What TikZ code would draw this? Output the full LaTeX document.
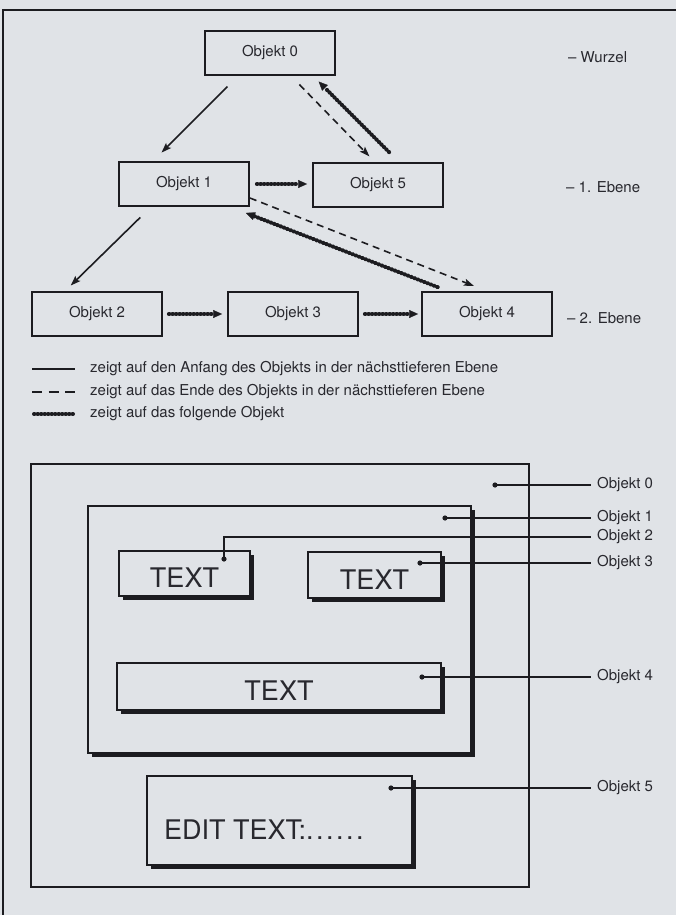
\documentclass[tikz,border=0pt]{standalone}
\usepackage{fontspec}
\setmainfont{TeX Gyre Heros}
\usetikzlibrary{arrows.meta,shadows}
\definecolor{paper}{RGB}{224,227,231}
\definecolor{ink}{RGB}{28,28,32}
\definecolor{txt}{RGB}{40,40,46}
\begin{document}
\begin{tikzpicture}[x=1pt,y=-1pt,
  every node/.style={text=txt, font=\fontsize{15}{18}\selectfont},
  obj/.style={draw=ink, line width=1.8pt, minimum width=130pt, minimum height=44pt, inner sep=0pt},
  lab/.style={anchor=west, inner sep=0pt},
  thinarrow/.style={draw=ink, line width=1.6pt, -{Stealth[length=10pt,width=7pt,inset=2pt]}},
  dashline/.style={dash pattern=on 7pt off 5pt},
  chain/.style={draw=ink, line width=4pt, line cap=round, dash pattern=on 0.5pt off 3pt, -{Triangle[length=9pt,width=8pt,line width=0.3pt]}},
  chainplain/.style={draw=ink, line width=4pt, line cap=round, dash pattern=on 0.5pt off 3pt},
  sbox/.style={draw=ink, line width=1.8pt, fill=paper, inner sep=0pt,
    drop shadow={shadow xshift=4pt, shadow yshift=-4pt, fill=ink, opacity=1}},
  big/.style={font=\fontsize{27}{30}\selectfont},
  ptr/.style={draw=ink, line width=1.5pt},
  dot/.style={fill=ink}
]
\fill[paper] (0,0) rectangle (676,915);
\useasboundingbox (0,0) rectangle (676,915);
% page frame
\draw[ink, line width=2pt] (3,915) -- (3,10) -- (676,10);

% ---- tree ----
\node[obj] (o0) at (270,53) {Objekt 0};
\node[obj] (o1) at (184,184) {Objekt 1};
\node[obj] (o5) at (378,185) {Objekt 5};
\node[obj] (o2) at (97,314) {Objekt 2};
\node[obj] (o3) at (293,314) {Objekt 3};
\node[obj] (o4) at (487,314) {Objekt 4};

\node[lab] (lw) at (568,57) {– Wurzel};
\node[lab] (le1) at (566,187) {– 1. Ebene};
\node[lab] (le2) at (567,318) {– 2. Ebene};

\draw[thinarrow, shorten <=15pt, shorten >=12pt] ([xshift=-32pt]o0.south) -- ([xshift=-31pt]o1.north);
\draw[thinarrow, shorten <=15pt, shorten >=8pt] ([xshift=-33pt]o1.south) -- ([xshift=-32pt]o2.north);
\draw[thinarrow, dashline, shorten <=12pt, shorten >=8pt] ([xshift=21pt]o0.south) -- ([xshift=-3pt]o5.north);
\draw[chain, shorten <=14pt, shorten >=8pt] ([xshift=21pt]o5.north) -- ([xshift=43pt]o0.south);
\draw[chain, shorten <=7pt, shorten >=5pt] (o1.east) -- (o1.east -| o5.west);
\draw[chain, shorten <=6pt, shorten >=5pt] (o2) -- (o3);
\draw[chain, shorten <=6pt, shorten >=3pt] (o3) -- (o4);
\draw[thinarrow, dashline, shorten >=14pt] ([yshift=-14pt]o1.east) -- (o4.north);
\draw[chain, shorten <=11pt] ([xshift=-39pt]o4.north) -- ([xshift=-4pt,yshift=-6pt]o1.south east);

% ---- legend ----
\coordinate (l1a) at (32,369); \coordinate (l1b) at (75,369);
\coordinate (l2a) at (32,392); \coordinate (l2b) at (75,392);
\coordinate (l3a) at (34,414); \coordinate (l3b) at (73,414);
\draw[ink, line width=2.2pt] (l1a) -- (l1b);
\draw[ink, line width=2.2pt, dash pattern=on 10pt off 6.5pt] (l2a) -- (l2b);
\draw[chainplain] (l3a) -- (l3b);
\node[lab] (t1) at (90,369) {zeigt auf den Anfang des Objekts in der nächsttieferen Ebene};
\node[lab] (t2) at (90,392) {zeigt auf das Ende des Objekts in der nächsttieferen Ebene};
\node[lab] (t3) at (90,414) {zeigt auf das folgende Objekt};

% ---- nested screen ----
\node[draw=ink, line width=2.2pt, minimum width=498pt, minimum height=423pt, inner sep=0pt] (b0) at (280,675.5) {};
\node[sbox, minimum width=383pt, minimum height=247pt] (b1) at (279.5,629.5) {};
\node[sbox, big, minimum width=131pt, minimum height=45pt, text height=28pt] (b2) at (184.5,573.5) {TEXT};
\node[sbox, big, minimum width=133pt, minimum height=46pt, text height=28pt] (b3) at (374.5,575) {TEXT};
\node[sbox, big, minimum width=324pt, minimum height=47pt, text height=27pt] (b4) at (279,686.5) {TEXT};
\node[sbox, minimum width=265pt, minimum height=89pt] (b5) at (279.5,820.5) {};
\node[lab, big] (et) at (164,830) {EDIT TEXT:.\kern2.5pt.\kern2.5pt.\kern2.5pt.\kern2.5pt.\kern2.5pt.};

\coordinate (d0) at (495,485);
\coordinate (d1) at (445,518);
\coordinate (d2) at (224,559);
\coordinate (d3) at (420,563);
\coordinate (d4) at (422,677);
\coordinate (d5) at (391,788);

\node[lab] (p0) at (597,485) {Objekt 0};
\node[lab] (p1) at (597,518) {Objekt 1};
\node[lab] (p2) at (597,537) {Objekt 2};
\node[lab] (p3) at (597,563) {Objekt 3};
\node[lab] (p4) at (597,677) {Objekt 4};
\node[lab] (p5) at (597,788) {Objekt 5};

\draw[ptr, shorten >=6pt] (d0) -- (p0.west);
\draw[ptr, shorten >=6pt] (d1) -- (p1.west);
\draw[ptr, shorten >=6pt] (d2) |- (p2.west);
\draw[ptr, shorten >=6pt] (d3) -- (p3.west);
\draw[ptr, shorten >=6pt] (d4) -- (p4.west);
\draw[ptr, shorten >=6pt] (d5) -- (p5.west);
\foreach \d in {d0,d1,d2,d3,d4,d5} \fill[dot] (\d) circle (2.6pt);
\end{tikzpicture}
\end{document}
